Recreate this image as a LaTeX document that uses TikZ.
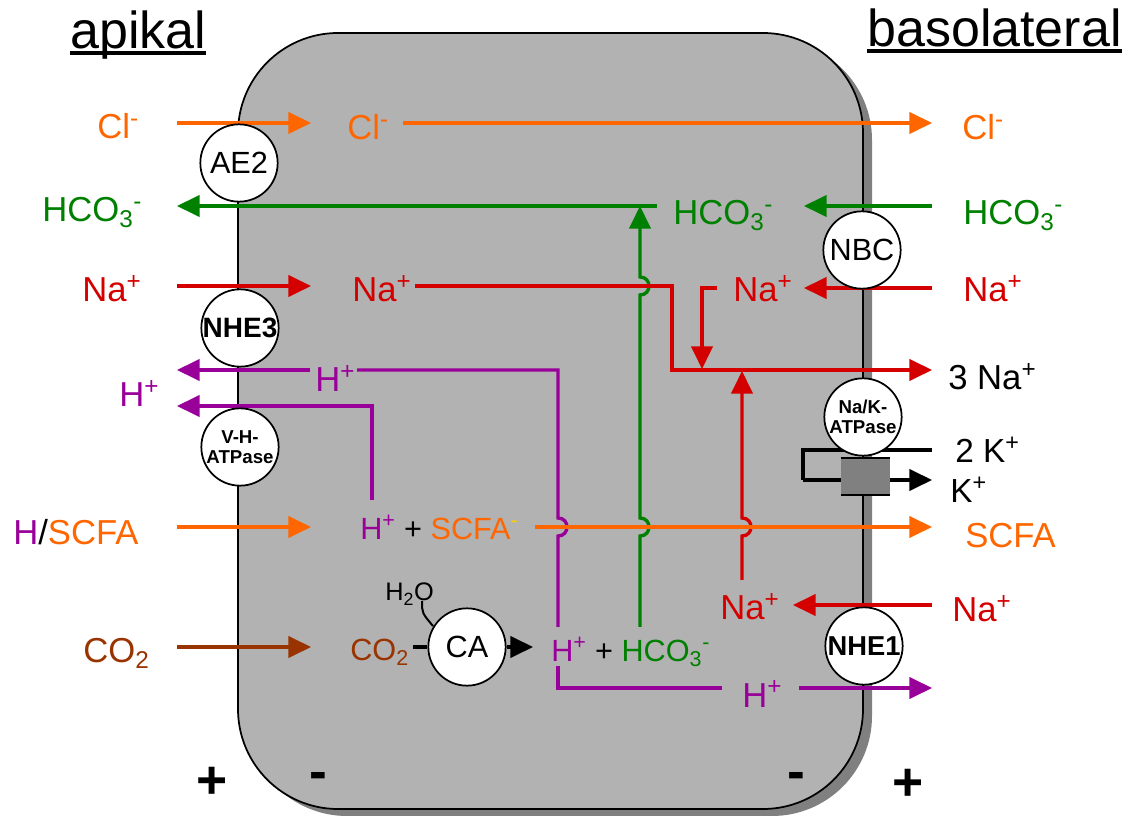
\documentclass[tikz,border=0pt]{standalone}
\usepackage{fontspec}
\setmainfont{Liberation Sans}
\usetikzlibrary{arrows.meta}
\definecolor{cOr}{HTML}{FF6600}
\definecolor{cGr}{HTML}{008000}
\definecolor{cRd}{HTML}{D40000}
\definecolor{cPu}{HTML}{990099}
\definecolor{cBr}{HTML}{993300}
\definecolor{cCell}{HTML}{B2B2B2}
\definecolor{cShad}{HTML}{808080}
\definecolor{cYe}{HTML}{FFCC00}
\begin{document}
\begin{tikzpicture}[x=0.75pt,y=-0.75pt,
  lbl/.style={inner sep=0pt, anchor=base west, font=\fontsize{26}{30}\selectfont},
  rx/.style={inner sep=0pt, anchor=base west, font=\fontsize{23}{27}\selectfont},
  ttl/.style={inner sep=0pt, anchor=base west, font=\fontsize{39}{42}\selectfont},
  sgn/.style={inner sep=0pt, font=\fontsize{40}{40}\selectfont\bfseries},
  pump/.style={circle, draw, fill=white, line width=1.3pt, minimum size=58pt, inner sep=0pt, align=center},
  flow/.style={line width=2.5pt},
  arr/.style={flow, -{Triangle[length=17pt,width=16pt]}},
  ul/.style={line width=3pt}
]
\useasboundingbox (0,0) rectangle (1133,816);
% cell
\fill[cShad, rounded corners=75pt] (247,40) rectangle (872,816);
\filldraw[fill=cCell, line width=1.3pt, rounded corners=75pt] (238,33) rectangle (863,809);

% titles
\node[ttl] (ap) at (70,49) {apikal};
\draw[ul] ([yshift=-2.8pt]ap.base west) -- ([yshift=-2.8pt]ap.base east);
\node[ttl] (bl) at (867,47) {basolateral};
\draw[ul] ([yshift=-2.8pt]bl.base west) -- ([yshift=-2.8pt]bl.base east);

% ---- Cl row
\draw[arr, cOr] (177,123) -- (311,123);
\draw[arr, cOr] (403,123) -- (932,123);
% ---- HCO3 row
\draw[arr, cGr] (657,206) -- (177,206);
\draw[arr, cGr] (932,206) -- (804,206);
\draw[arr, cGr] (640,627) -- (640,536) .. controls (652,536) and (652,518) .. (640,518)
   -- (640,295) .. controls (652,295) and (652,277) .. (640,277) -- (640,206);
% ---- Na rows
\draw[arr, cRd] (177,286) -- (311,286);
\draw[arr, cRd] (415,286) -- (672,286) -- (672,370) -- (932,370);
\draw[arr, cRd] (932,288) -- (804,288);
\draw[arr, cRd] (717,288) -- (702,288) -- (702,369);
\draw[arr, cRd] (742,580) -- (742,536) .. controls (754,536) and (754,518) .. (742,518) -- (742,371);
\draw[arr, cRd] (932,605) -- (793,605);
% ---- H+ rows
\draw[flow, cPu] (558,627) -- (558,536) .. controls (570,536) and (570,518) .. (558,518) -- (558,370) -- (357,370);
\draw[arr, cPu] (310,370) -- (177,370);
\draw[arr, cPu] (372,500) -- (372,406) -- (177,406);
\draw[flow, cPu] (558,666) -- (558,688) -- (722,688);
\draw[arr, cPu] (799,688) -- (932,688);
% ---- SCFA row
\draw[arr, cOr] (177,527) -- (311,527);
\draw[arr, cOr] (535,527) -- (932,527);
% ---- CO2 row
\draw[arr, cBr] (177,647) -- (311,647);
\node[pump, font=\fontsize{23}{27}\selectfont] (CA) at (467,647) {CA};
\coordinate (co2stub) at (413,647);
\draw[flow, black] (co2stub) -- (CA.west);
\coordinate (catip) at (533,647);
\draw[arr, black] (CA.east) -- (catip);
\node[inner sep=0pt, anchor=base west, font=\fontsize{19}{22}\selectfont] (h2o) at (385,601) {H\textsubscript{2}O};
\draw[line width=1.5pt] (422,601) .. controls (422,613) .. (433,626);

% ---- K loop
\draw[flow, black] (932,450) -- (803,450) -- (803,480);
\draw[arr, black] (803,480) -- (932,480);
\fill[cShad] (841,458) rectangle (890,495);
\draw[line width=1.5pt] (841,458) -- (890,458) (841,495) -- (890,495);

% ---- pumps
\node[pump, font=\fontsize{23}{27}\selectfont] (AE2) at (239,163) {AE2};
\node[pump, font=\fontsize{21}{25}\selectfont\bfseries] (NHE3) at (240,328) {NHE3};
\node[pump, font=\fontsize{14}{15}\selectfont\bfseries] (VH) at (240,447) {V-H-\\ATPase};
\node[pump, font=\fontsize{23}{27}\selectfont] (NBC) at (862,250) {NBC};
\node[pump, font=\fontsize{14}{15}\selectfont\bfseries] (NaK) at (863,417) {Na/K-\\ATPase};
\node[pump, font=\fontsize{20.5}{24}\selectfont\bfseries] (NHE1) at (864,646) {NHE1};

% ---- left labels
\node[lbl, text=cOr] (clL) at (97,139) {Cl\textsuperscript{-}};
\node[lbl, text=cGr] (hcoL) at (42,222) {HCO\textsubscript{3}\textsuperscript{-}};
\node[lbl, text=cRd] (naL) at (82,302) {Na\textsuperscript{+}};
\node[lbl, text=cPu] (hL) at (119,407) {H\textsuperscript{+}};
\node[lbl] (scfaL) at (13,545) {{\color{cPu}H}/{\color{cOr}SCFA}};
\node[lbl, text=cBr] (co2L) at (83,663) {CO\textsubscript{2}};
% ---- inner labels
\node[lbl, text=cOr] (clI) at (347,140) {Cl\textsuperscript{-}};
\node[lbl, text=cGr] (hcoI) at (673,225) {HCO\textsubscript{3}\textsuperscript{-}};
\node[lbl, text=cRd] (naI) at (352,302) {Na\textsuperscript{+}};
\node[lbl, text=cRd] (naI2) at (733,302) {Na\textsuperscript{+}};
\node[lbl, text=cPu] (hI) at (315,392) {H\textsuperscript{+}};
\node[rx] (scfaI) at (360,540) {{\color{cPu}H\textsuperscript{+}} + {\color{cOr}SCFA\textsuperscript{\color{cYe}-}}};
\node[rx, text=cBr] (co2I) at (350,661) {CO\textsubscript{2}};
\node[rx] (hcoRx) at (551,662) {{\color{cPu}H\textsuperscript{+}} + {\color{cGr}HCO\textsubscript{3}\textsuperscript{-}}};
\node[lbl, text=cPu] (hB) at (742,707) {H\textsuperscript{+}};
\node[lbl, text=cRd] (naI3) at (720,620) {Na\textsuperscript{+}};
% ---- right labels
\node[lbl, text=cOr] (clR) at (962,140) {Cl\textsuperscript{-}};
\node[lbl, text=cGr] (hcoR) at (963,225) {HCO\textsubscript{3}\textsuperscript{-}};
\node[lbl, text=cRd] (naR) at (963,302) {Na\textsuperscript{+}};
\node[lbl] (na3R) at (948,390) {3 Na\textsuperscript{+}};
\node[lbl, font=\fontsize{25}{28}\selectfont] (k2R) at (955,463) {2 K\textsuperscript{+}};
\node[lbl, font=\fontsize{25}{28}\selectfont] (kR) at (950,503) {K\textsuperscript{+}};
\node[lbl, text=cOr] (scfaR) at (965,548) {SCFA};
\node[lbl, text=cRd] (naR2) at (952,622) {Na\textsuperscript{+}};
% ---- potentials
\node[sgn] (p1) at (212,783) {+};
\node[sgn] (m1) at (318,781) {-};
\node[sgn] (m2) at (796,781) {-};
\node[sgn] (p2) at (908,785) {+};
\end{tikzpicture}
\end{document}
